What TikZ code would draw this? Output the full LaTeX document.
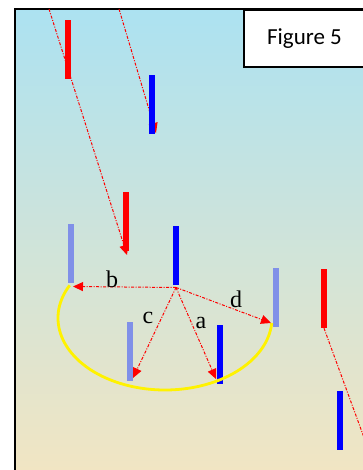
\documentclass[tikz,border=0pt]{standalone}
\usepackage{fontspec}
\setmainfont{Liberation Serif}
\newfontfamily\calibrifont{Carlito}
\usepackage{xcolor}
\usetikzlibrary{arrows.meta}
\definecolor{skytop}{RGB}{172,226,241}
\definecolor{skymid}{RGB}{205,231,219}
\definecolor{sandbottom}{RGB}{241,229,195}
\definecolor{paleblue}{RGB}{128,144,232}

\begin{document}
\begin{tikzpicture}[x=1pt,y=-1pt,
        bar/.style={rectangle,inner sep=0pt,minimum width=6pt,minimum height=59pt},
        trail/.style={red,line width=1pt,dash pattern=on 3pt off 1.5pt on 1pt off 1.5pt},
        ray/.style={trail,-{Triangle[length=10pt,width=9pt]}},
        lbl/.style={inner sep=0pt,font=\fontsize{24}{28}\selectfont}]
    \useasboundingbox (0,0) rectangle (363,470);
    \clip (0,0) rectangle (363,470);
    % background and frame
    \shade[top color=skytop,middle color=skymid,bottom color=sandbottom] (15,9) rectangle (363,470);
    \draw[line width=2pt] (15,470) -- (15,9.5) -- (363,9.5);
    \filldraw[fill=white,line width=1.5pt] (244,10) rectangle (375,67);
    \node[font=\calibrifont\fontsize{23}{27}\selectfont,anchor=base] (title) at (304.5,45) {Figure 5};
    % incoming paths
    \coordinate (in1) at (49,9);
    \coordinate (hit1) at (127,255);
    \coordinate (in2) at (119,9);
    \coordinate (hit2) at (156,133);
    \draw[ray] (in1) -- (hit1);
    \draw[ray] (in2) -- (hit2);
    % bars
    \node[bar,fill=red] (r1) at (68,49.5) {};
    \node[bar,fill=blue] (b1) at (152,105) {};
    \node[bar,fill=red] (r2) at (126,221) {};
    \node[bar,fill=paleblue] (lb1) at (71,253.5) {};
    \node[bar,fill=blue] (b2) at (176,255.5) {};
    \node[bar,fill=paleblue] (lb2) at (276,297) {};
    \node[bar,fill=red] (r3) at (324,298.5) {};
    \node[bar,fill=paleblue] (lb3) at (130,351) {};
    \node[bar,fill=blue] (b3) at (219.5,354) {};
    \node[bar,fill=blue] (b4) at (340,420.5) {};
    % yellow arc
    \draw[yellow,line width=2.8pt] (165,318) ++(207:107 and 72) arc[start angle=207,end angle=4,x radius=107,y radius=72];
    % outgoing rays
    \coordinate (o) at (176,287.5);
    \coordinate (tb) at (73,286.5);
    \coordinate (tc) at (133,378);
    \coordinate (ta) at (216,379);
    \coordinate (td) at (271,323);
    \draw[ray] (o) -- (tb);
    \draw[ray] (o) -- (tc);
    \draw[ray] (o) -- (ta);
    \draw[ray] (o) -- (td);
    \coordinate (out3) at (366,443);
    \draw[trail] (r3.south) -- (out3);
    % labels
    \node[lbl] (lab) at (112,279) {b};
    \node[lbl] (lac) at (148,318) {c};
    \node[lbl] (laa) at (201,323) {a};
    \node[lbl] (lad) at (236,299.5) {d};
\end{tikzpicture}
\end{document}
